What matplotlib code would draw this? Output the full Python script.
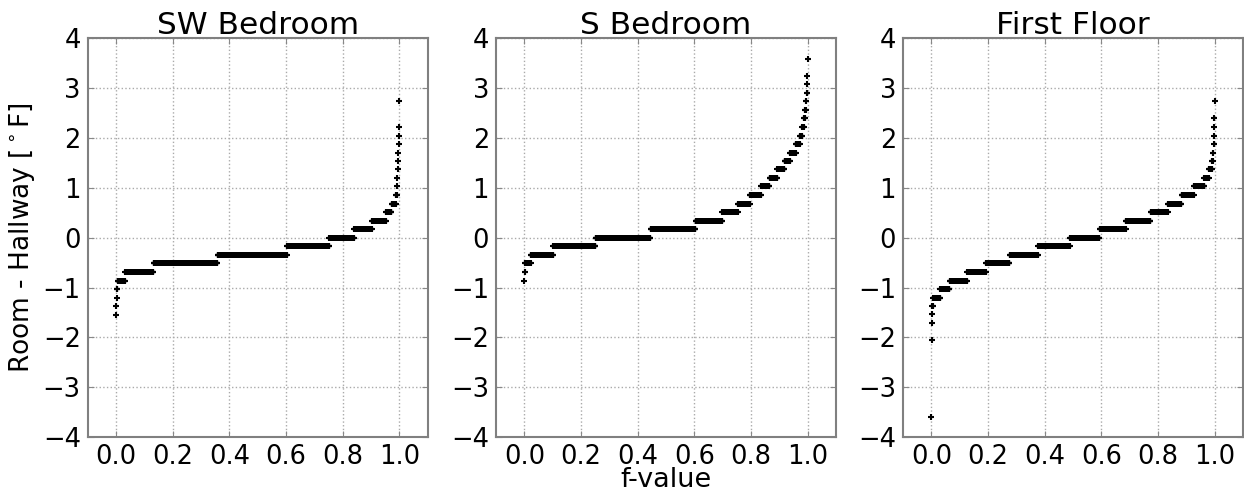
import numpy as np
import matplotlib
matplotlib.use('Agg')
import matplotlib.pyplot as plt

titles = ['SW Bedroom', 'S Bedroom', 'First Floor']

# quantised temperature difference levels [F] and how many samples sit on each
sw_levels = [-1.55, -1.37, -1.2, -1.03, -0.86, -0.68, -0.51, -0.34, -0.17, 0.0,
             0.17, 0.34, 0.51, 0.68, 0.86, 1.03, 1.2, 1.37, 1.54, 1.71, 1.88,
             2.05, 2.22, 2.74]
sw_counts = [1, 1, 1, 3, 27, 100, 227, 247, 150, 88,
             63, 50, 20, 15, 4, 1, 1, 1, 1, 1, 1,
             1, 1, 1]

s_levels = [-0.86, -0.68, -0.51, -0.34, -0.17, 0.0, 0.17, 0.34, 0.51, 0.68,
            0.86, 1.03, 1.2, 1.37, 1.54, 1.71, 1.88, 2.05, 2.22, 2.4,
            2.57, 2.74, 2.91, 3.08, 3.25, 3.59]
s_counts = [1, 2, 20, 80, 150, 195, 160, 95, 55, 42,
            40, 30, 28, 25, 20, 20, 15, 8, 6, 4,
            3, 2, 2, 1, 1, 1]

ff_levels = [-3.59, -2.05, -1.71, -1.54, -1.37, -1.2, -1.03, -0.86, -0.68, -0.51,
             -0.34, -0.17, 0.0, 0.17, 0.34, 0.51, 0.68, 0.86, 1.03, 1.2,
             1.37, 1.54, 1.71, 1.88, 2.05, 2.22, 2.4, 2.74]
ff_counts = [1, 1, 1, 1, 3, 25, 33, 62, 66, 84,
             101, 112, 105, 92, 88, 61, 48, 44, 37, 16,
             11, 3, 2, 1, 1, 1, 1, 1]

series = [(sw_levels, sw_counts), (s_levels, s_counts), (ff_levels, ff_counts)]

fig = plt.figure(figsize=(12.44, 4.94), dpi=100)
lefts = [0.0705, 0.3987, 0.7259]

for i, (levels, counts) in enumerate(series):
    ax = fig.add_axes([lefts[i], 0.1154, 0.2733, 0.8067])
    vals = np.sort(np.repeat(levels, counts))
    f = np.arange(len(vals)) / (len(vals) - 1.0)
    ax.plot(f, vals, '+', color='k', ms=5, mew=1.5)
    ax.set_xlim(-0.1, 1.1)
    ax.set_ylim(-4, 4)
    ax.set_xticks([0.0, 0.2, 0.4, 0.6, 0.8, 1.0])
    ax.set_yticks(range(-4, 5))
    ax.grid(True, linestyle=':', color='#aaaaaa', linewidth=1)
    ax.tick_params(direction='in', top=True, right=True, labelsize=18.5,
                   color='#888888', length=4, pad=5)
    for sp in ax.spines.values():
        sp.set_color('#808080')
        sp.set_linewidth(1.5)
    ax.set_title(titles[i], fontsize=22.5, pad=3)
    if i == 0:
        ax.set_ylabel(r'Room - Hallway [$^\circ$F]', fontsize=19)
    if i == 1:
        ax.set_xlabel('f-value', fontsize=19.5, labelpad=-2)

fig.savefig('out.png', dpi=100)
